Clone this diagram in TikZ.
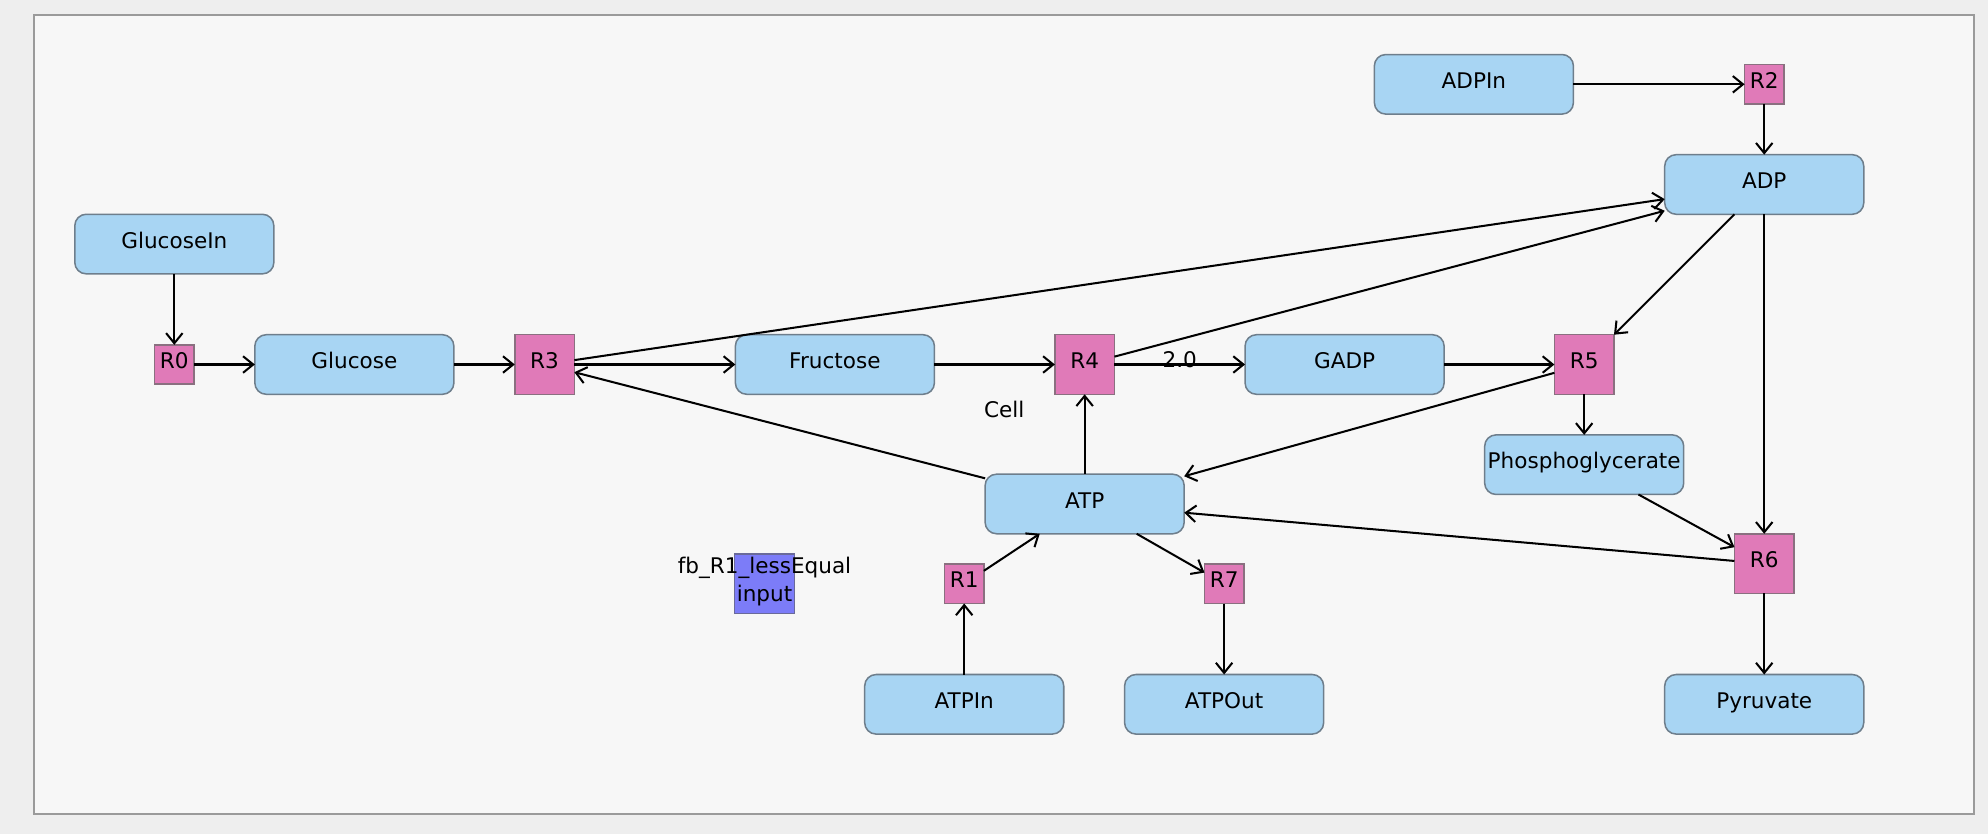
\documentclass[tikz,border=0pt]{standalone}
\usepackage{fontspec}
\setmainfont{DejaVu Sans}
\usetikzlibrary{arrows.meta}
\definecolor{outerbg}{HTML}{EEEEEE}
\definecolor{innerbg}{HTML}{F7F7F7}
\definecolor{framecol}{HTML}{9A9A9A}
\definecolor{spfill}{HTML}{A8D5F3}
\definecolor{spdraw}{HTML}{6E7E8C}
\definecolor{rxfill}{HTML}{E07AB8}
\definecolor{rxdraw}{HTML}{8A7080}
\definecolor{infill}{HTML}{7C7CF8}
\definecolor{indraw}{HTML}{6A6A9A}
\begin{document}
\begin{tikzpicture}[x=0.5pt,y=-0.5pt,
  font=\fontsize{8.5}{11}\selectfont,
  species/.style={rectangle, rounded corners=4.5pt, minimum width=78.5pt, minimum height=23.5pt,
    inner sep=0pt, outer sep=0pt, fill=spfill, draw=spdraw, line width=0.6pt,
    text height=6.2pt, text depth=3pt},
  rxn/.style={rectangle, minimum size=15.5pt, inner sep=0pt, outer sep=0pt,
    fill=rxfill, draw=rxdraw, line width=0.6pt, text height=6.2pt, text depth=3pt},
  rxnbig/.style={rxn, minimum size=23.5pt},
  inbox/.style={rectangle, minimum size=23.5pt, inner sep=0pt, outer sep=0pt,
    fill=infill, draw=indraw, line width=0.6pt},
  lbl/.style={inner sep=0pt, text height=6.2pt, text depth=3pt},
  arr/.style={line width=0.8pt, -{Straight Barb[length=4pt,width=6.5pt]}}
]
\path[use as bounding box, fill=outerbg] (0,0) rectangle (1568,658);
\draw[framecol, fill=innerbg, line width=0.8pt] (27,12) rectangle (1557,642);

% species
\node[species] (GlucoseIn) at (137.5,192.5) {GlucoseIn};
\node[species] (Glucose) at (279.5,287.5) {Glucose};
\node[species] (Fructose) at (658.5,287.5) {Fructose};
\node[species] (GADP) at (1060.5,287.5) {GADP};
\node[species] (ADPIn) at (1162.5,66.5) {ADPIn};
\node[species] (ADP) at (1391.5,145.5) {ADP};
\node[species] (Phospho) at (1249.5,366.5) {Phosphoglycerate};
\node[species] (Pyruvate) at (1391.5,555.5) {Pyruvate};
\node[species] (ATP) at (855.5,397.5) {ATP};
\node[species] (ATPIn) at (760.5,555.5) {ATPIn};
\node[species] (ATPOut) at (965.5,555.5) {ATPOut};

% reactions
\node[rxn] (R0) at (137.5,287.5) {R0};
\node[rxnbig] (R3) at (429.5,287.5) {R3};
\node[rxnbig] (R4) at (855.5,287.5) {R4};
\node[rxnbig] (R5) at (1249.5,287.5) {R5};
\node[rxn] (R2) at (1391.5,66.5) {R2};
\node[rxnbig] (R6) at (1391.5,444.5) {R6};
\node[rxn] (R1) at (760.5,460.5) {R1};
\node[rxn] (R7) at (965.5,460.5) {R7};

% input box and labels
\node[inbox] (fbbox) at (603,460.5) {};
\node[align=center, inner sep=0pt] (fbtext) at (603,459) {fb\_R1\_lessEqual\\input};
\node[lbl] (cell) at (792,326) {Cell};

% connectors
\draw[arr] (GlucoseIn) -- (R0);
\draw[arr] (R0) -- (Glucose);
\draw[arr] (Glucose) -- (R3);
\draw[arr] (R3) -- (Fructose);
\draw[arr] (R3) -- (ADP);
\draw[arr] (ATP) -- (R3);
\draw[arr] (Fructose) -- (R4);
\draw[arr] (R4) -- node[lbl, yshift=0.6pt] (lab20) {2.0} (GADP);
\draw[arr] (R4) -- (ADP);
\draw[arr] (ATP) -- (R4);
\draw[arr] (GADP) -- (R5);
\draw[arr] (ADP) -- (R5);
\draw[arr] (R5) -- (ATP);
\draw[arr] (R5) -- (Phospho);
\draw[arr] (Phospho) -- (R6);
\draw[arr] (ADP) -- (R6);
\draw[arr] (R6) -- (ATP);
\draw[arr] (R6) -- (Pyruvate);
\draw[arr] (ADPIn) -- (R2);
\draw[arr] (R2) -- (ADP);
\draw[arr] (ATPIn) -- (R1);
\draw[arr] (R1) -- (ATP);
\draw[arr] (ATP) -- (R7);
\draw[arr] (R7) -- (ATPOut);
\end{tikzpicture}
\end{document}
